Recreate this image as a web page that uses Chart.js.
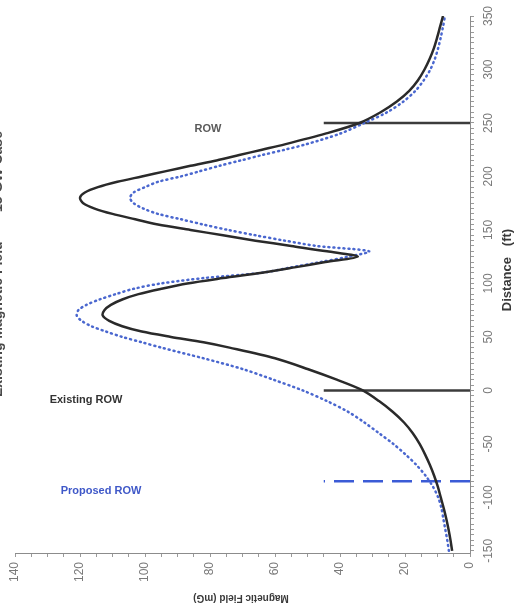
<!DOCTYPE html>
<html>
<head>
<meta charset="utf-8">
<title>Magnetic Field - 15 GW Case</title>
<script src="https://cdn.jsdelivr.net/npm/chart.js@4.4.1/dist/chart.umd.min.js"></script>
<style>
    html, body { margin: 0; padding: 0; background: #fff; }
    #wrap { width: 515px; height: 605px; position: relative; }
</style>
</head>
<body>
<div id="wrap"><canvas id="fieldChart"></canvas></div>
<script>
// distance from centerline (ft)
const distance = [-150, -140, -130, -120, -110, -100, -90, -80, -70, -60, -50, -40, -30, -20, -10,
    0, 10, 20, 30, 40, 45, 50, 55, 60, 65, 70, 75, 80, 85, 90, 95, 100, 105, 110, 115, 120,
    125, 130, 135, 140, 145, 150, 155, 160, 165, 170, 175, 180, 185, 190, 195, 200, 205, 210,
    215, 220, 225, 230, 240, 250, 260, 270, 280, 290, 300, 310, 320, 330, 340, 350];

// magnetic field (mG)
const existingField = [5.5, 6.0, 6.6, 7.3, 8.1, 9.0, 9.9, 11.0, 12.3, 13.8, 15.5, 17.6, 20.3, 23.8, 28.0,
    33, 41, 50, 60, 74, 82, 92, 101, 107, 111, 113, 112.5, 110.5, 107, 102, 95, 87, 76, 64, 54, 44.5,
    34.5, 44, 55, 66, 76, 86, 96, 103, 110, 115.5, 119, 120, 118.5, 114.5, 108.5, 101, 93.5, 86,
    78, 71, 64, 57, 44.5, 34, 27.5, 22.5, 18.7, 16, 14, 12.4, 11.1, 10.1, 9.2, 8.3];

const proposedField = [6.5, 7.0, 7.6, 8.2, 8.8, 9.8, 11.4, 13.6, 16.4, 19.8, 23.6, 28.0, 32.5, 37.5, 44,
    51.5, 60.5, 70, 82, 95, 101, 107, 112, 116.5, 119.5, 121, 120.5, 118, 114, 109, 103.5, 95, 82, 64, 55, 46,
    37.5, 31, 47, 57, 66, 74.5, 82, 89, 96, 100.5, 103.5, 104.6, 103.5, 100, 96, 89, 83, 77,
    70.5, 64, 57, 50.5, 40, 32.5, 25.5, 20.5, 16.8, 14.2, 12.2, 10.8, 9.8, 9.0, 8.3, 7.7];

// right-of-way edges (ft) and how far up the field axis their markers reach (mG)
const existingRow = [0, 250];
const proposedRow = [-85];
const rowMarkTop = 45;

const distanceTicks = [-150, -100, -50, 0, 50, 100, 150, 200, 250, 300, 350];
const fieldTicks = [0, 20, 40, 60, 80, 100, 120, 140];

const FONT = '"Liberation Sans", Arial, sans-serif';

function toPoints(field) {
    return distance.map((d, i) => ({ x: field[i], y: d }));
}

function rowLine(d) {
    return [{ x: 0, y: d }, { x: rowMarkTop, y: d }];
}

function rotText(ctx, text, x, y, angle, align, baseline) {
    ctx.save();
    ctx.translate(x, y);
    ctx.rotate(angle);
    ctx.textAlign = align || 'center';
    ctx.textBaseline = baseline || 'middle';
    ctx.fillText(text, 0, 0);
    ctx.restore();
}

const notesPlugin = {
    id: 'notes',
    afterDraw(chart) {
        const ctx = chart.ctx;
        ctx.save();

        // labels next to the ROW markers
        ctx.textAlign = 'center';
        ctx.textBaseline = 'middle';
        ctx.font = 'bold 11px ' + FONT;
        ctx.fillStyle = '#5a5a5a';
        ctx.fillText('ROW', 208, 129);
        ctx.fillStyle = '#333';
        ctx.fillText('Existing ROW', 86, 400);
        ctx.fillStyle = '#3f58c8';
        ctx.fillText('Proposed ROW', 101, 491);

        // title, mostly cut off by the left edge
        ctx.font = 'bold 14px ' + FONT;
        ctx.fillStyle = '#4a4a4a';
        rotText(ctx, 'Existing Magnetic Field', 2, 397, -Math.PI / 2, 'left', 'alphabetic');
        rotText(ctx, '15 GW Case', 2, 212, -Math.PI / 2, 'left', 'alphabetic');

        // axis titles
        ctx.font = 'bold 13px ' + FONT;
        ctx.fillStyle = '#3a3a3a';
        rotText(ctx, 'Distance   (ft)', 507, 270, -Math.PI / 2);
        ctx.font = 'bold 10px ' + FONT;
        rotText(ctx, 'Magnetic Field (mG)', 241, 598, Math.PI);

        ctx.restore();
    }
};

function stepTicks(from, to, step) {
    const out = [];
    for (let v = from; v <= to; v += step) out.push({ value: v });
    return out;
}

const config = {
    type: 'scatter',
    data: {
        datasets: [
            {
                label: 'Existing',
                data: toPoints(existingField),
                showLine: true,
                borderColor: '#2a2a2a',
                borderWidth: 2.5,
                pointRadius: 0,
                tension: 0.3
            },
            {
                label: 'Proposed',
                data: toPoints(proposedField),
                showLine: true,
                borderColor: '#4a67cf',
                borderWidth: 2.5,
                borderDash: [1, 4],
                borderCapStyle: 'round',
                pointRadius: 0,
                tension: 0.3
            },
            ...existingRow.map(d => ({
                label: 'Existing ROW',
                data: rowLine(d),
                showLine: true,
                borderColor: '#3c3c3c',
                borderWidth: 2.5,
                pointRadius: 0
            })),
            ...proposedRow.map(d => ({
                label: 'Proposed ROW',
                data: rowLine(d),
                showLine: true,
                borderColor: '#3b5bd6',
                borderWidth: 2.5,
                borderDash: [20, 9],
                pointRadius: 0
            }))
        ]
    },
    options: {
        responsive: true,
        maintainAspectRatio: false,
        animation: false,
        layout: { padding: { left: 15, top: 16, right: 0, bottom: 0 } },
        plugins: {
            legend: { display: false },
            tooltip: { enabled: false }
        },
        scales: {
            x: {
                type: 'linear',
                min: 0,
                max: 140,
                reverse: true,
                position: 'bottom',
                afterBuildTicks: s => { s.ticks = stepTicks(0, 140, 5); },
                afterFit: s => { s.height = 52; },
                ticks: {
                    autoSkip: false,
                    minRotation: 90,
                    maxRotation: 90,
                    padding: 5,
                    color: '#7a7a7a',
                    font: { family: FONT, size: 12 },
                    callback: v => fieldTicks.includes(v) ? String(v) : ''
                },
                grid: { drawOnChartArea: false, tickLength: 4, color: '#9a9a9a' },
                border: { color: '#8c8c8c', width: 1 }
            },
            y: {
                type: 'linear',
                min: -152,
                max: 350,
                position: 'right',
                afterBuildTicks: s => { s.ticks = stepTicks(-150, 350, 5); },
                afterFit: s => { s.width = 45; },
                ticks: {
                    autoSkip: false,
                    minRotation: 90,
                    maxRotation: 90,
                    padding: 3,
                    crossAlign: 'center',
                    color: '#7a7a7a',
                    font: { family: FONT, size: 12 },
                    callback: v => distanceTicks.includes(v) ? String(v) : ''
                },
                grid: { drawOnChartArea: false, tickLength: 4, color: '#9a9a9a' },
                border: { color: '#8c8c8c', width: 1 }
            }
        }
    },
    plugins: [notesPlugin]
};

const fieldChart = new Chart(document.getElementById('fieldChart'), config);
</script>
</body>
</html>
